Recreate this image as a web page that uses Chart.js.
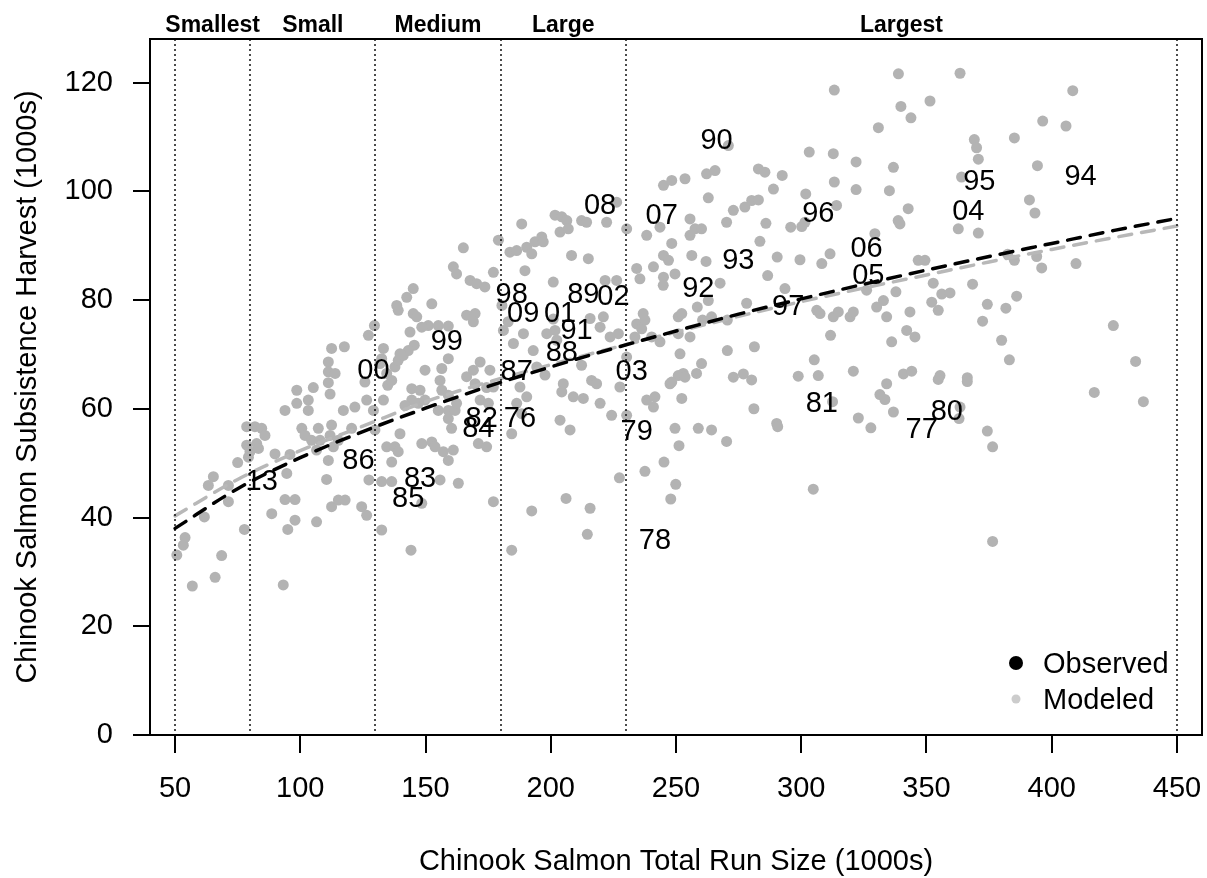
<!DOCTYPE html>
<html>
<head>
<meta charset="utf-8">
<script src="https://cdn.jsdelivr.net/npm/chart.js@4.4.1/dist/chart.umd.min.js"></script>
<style>
  html, body { margin: 0; padding: 0; background: #fff; }
  canvas { display: block; }
</style>
</head>
<body>
<canvas id="myChart" width="1207" height="878"></canvas>
<script>
//데이터 - 모델 추정치 (총 회귀량, 자급 어획량, 천 마리)
const runSize = [
  50.7, 53.3, 54.0, 56.9, 66.0, 68.6, 61.7, 63.3, 65.3, 71.3,
  71.3, 75.0, 77.7, 78.6, 81.9, 84.6, 85.9, 78.6, 79.9, 82.6,
  83.3, 79.3, 89.9, 95.9, 94.6, 88.6, 93.9, 97.9, 97.9, 95.0,
  93.2, 106.5, 110.5, 112.5, 115.2, 117.9, 124.5, 126.5, 132.5, 144.2,
  127.4, 132.5, 136.5, 163.1, 177.1, 155.8, 98.6, 93.9, 98.6, 103.2,
  103.2, 105.2, 111.9, 111.2, 111.2, 112.5, 117.6, 111.2, 113.9, 100.6,
  101.9, 104.5, 107.2, 107.9, 106.5, 112.5, 111.9, 113.2, 115.2, 111.2,
  117.2, 121.8, 120.5, 126.5, 125.8, 127.2, 129.6, 129.2, 129.8, 133.2,
  132.5, 133.2, 134.9, 136.5, 137.8, 139.1, 141.1, 143.8, 145.5, 139.1,
  145.1, 152.5, 151.1, 155.1, 159.1, 166.4, 169.8, 169.1, 149.8, 156.5,
  155.8, 144.5, 147.8, 144.5, 141.8, 147.1, 149.8, 156.5, 159.1, 155.1,
  159.1, 161.8, 159.1, 139.8, 134.5, 137.8, 139.1, 136.5, 148.5, 152.5,
  153.8, 157.1, 159.1, 161.1, 160.4, 166.4, 171.8, 169.1, 171.1, 174.4,
  175.7, 177.1, 148.5, 159.1, 169.8, 174.4, 171.8, 175.1, 131.8, 134.5,
  143.1, 139.8, 148.5, 146.5, 138.5, 162.4, 165.1, 161.1, 162.4, 167.8,
  170.4, 173.7, 177.1, 145.1, 142.5, 179.1, 183.7, 186.4, 188.4, 190.4,
  192.4, 189.7, 193.7, 196.4, 197.0, 201.7, 204.4, 206.4, 203.7, 207.0,
  212.3, 214.3, 222.3, 226.3, 208.3, 215.0, 201.0, 221.7, 226.3, 230.3,
  181.1, 185.1, 189.1, 193.0, 198.4, 201.7, 202.4, 215.7, 221.0, 219.7,
  223.7, 227.0, 194.4, 197.7, 212.3, 205.0, 204.4, 209.0, 213.0, 216.3,
  218.3, 219.7, 224.3, 227.6, 230.3, 233.6, 234.3, 236.9, 236.3, 238.3,
  241.6, 241.0, 247.6, 252.3, 249.6, 203.7, 207.7, 234.3, 235.6, 238.3,
  241.0, 245.0, 245.0, 248.3, 247.0, 249.6, 255.6, 256.3, 257.6, 245.0,
  248.3, 253.6, 250.9, 255.6, 251.6, 252.9, 180.5, 183.0, 201.0, 187.7,
  190.4, 186.4, 188.4, 184.4, 192.4, 206.1, 215.7, 214.6, 227.4, 237.6,
  245.2, 249.9, 247.9, 251.2, 270.2, 264.2, 258.9, 281.1, 290.2, 290.6,
  184.4, 230.3, 270.9, 262.2, 265.6, 262.9, 255.6, 260.2, 270.2, 272.9,
  277.5, 280.2, 282.9, 282.9, 285.5, 288.9, 292.4, 285.9, 283.5, 262.0,
  267.6, 262.9, 258.5, 260.6, 264.2, 270.5, 278.2, 286.6, 290.4, 293.5,
  295.8, 300.2, 301.5, 301.8, 303.2, 312.8, 313.2, 321.9, 321.9, 330.8,
  336.8, 335.2, 342.7, 338.7, 339.4, 314.1, 311.5, 308.2, 299.5, 306.2,
  307.5, 312.8, 314.8, 319.5, 320.8, 311.7, 326.1, 329.4, 332.8, 330.1,
  334.1, 337.8, 343.4, 336.1, 342.1, 345.4, 346.7, 349.4, 352.7, 352.1,
  354.7, 356.1, 270.5, 281.3, 260.2, 258.2, 250.9, 253.6, 248.3, 272.9,
  276.9, 280.2, 298.8, 305.2, 306.8, 320.8, 334.1, 340.8, 344.1, 355.4,
  243.6, 244.9, 237.6, 240.3, 243.6, 252.3, 250.9, 338.8, 363.4, 313.2,
  408.4, 339.8, 343.8, 351.4, 396.4, 405.7, 385.1, 369.1, 370.0, 370.7,
  394.3, 364.0, 391.1, 393.3, 362.7, 370.7, 385.1, 394.0, 396.0, 409.7,
  382.4, 368.4, 374.3, 381.7, 386.0, 372.4, 424.6, 359.4, 433.5, 417.0,
  436.6, 380.0, 383.1, 363.4, 363.0, 374.3, 376.4, 376.4, 304.8, 322.8,
  327.8, 336.8, 331.4, 333.4, 354.7, 366.3, 366.3, 312.5
];
const harvest = [
  33.1, 34.9, 36.3, 27.4, 29.0, 33.0, 40.1, 45.9, 47.5, 45.9,
  42.9, 50.1, 37.8, 56.7, 56.7, 56.4, 55.1, 53.3, 52.1, 53.6,
  52.7, 51.1, 51.7, 51.6, 48.1, 40.7, 43.3, 43.3, 39.5, 37.8,
  27.6, 39.2, 47.0, 42.0, 43.2, 43.2, 42.0, 40.4, 37.7, 34.0,
  46.9, 46.6, 46.6, 46.3, 42.9, 46.9, 63.4, 59.7, 61.0, 61.6,
  59.7, 63.9, 62.7, 64.8, 68.6, 71.1, 71.4, 66.8, 66.5, 56.4,
  55.1, 54.2, 56.4, 54.2, 52.4, 57.0, 55.1, 53.0, 54.2, 50.5,
  59.7, 60.3, 56.4, 61.6, 64.9, 73.5, 75.3, 59.7, 56.1, 71.1,
  69.2, 61.6, 64.3, 65.2, 67.7, 68.9, 69.8, 74.1, 71.7, 78.1,
  77.5, 79.3, 75.3, 75.3, 75.2, 77.2, 77.5, 76.0, 67.1, 67.4,
  65.2, 63.7, 63.4, 61.6, 60.6, 61.0, 61.6, 63.4, 62.5, 59.7,
  59.7, 59.7, 58.2, 55.4, 53.0, 53.0, 52.1, 50.2, 53.6, 53.9,
  53.0, 52.1, 50.5, 52.4, 56.4, 65.9, 68.6, 67.1, 53.6, 53.0,
  67.1, 64.0, 42.6, 69.2, 64.6, 63.9, 61.6, 61.0, 68.3, 66.5,
  70.7, 70.1, 75.0, 76.9, 79.0, 61.0, 89.6, 86.1, 84.8, 83.6,
  83.0, 82.4, 85.1, 82.1, 80.5, 91.0, 88.8, 89.1, 94.0, 89.7,
  88.5, 85.4, 90.7, 91.6, 90.7, 95.6, 95.3, 94.6, 92.5, 93.1,
  94.6, 94.3, 94.3, 98.0, 88.2, 87.6, 83.3, 83.6, 83.6, 93.1,
  74.4, 72.0, 73.8, 70.7, 73.8, 74.4, 72.6, 76.6, 76.9, 75.0,
  73.2, 73.8, 67.7, 66.2, 68.0, 64.6, 63.1, 62.2, 61.9, 65.2,
  64.6, 61.0, 58.8, 64.0, 69.5, 73.2, 75.6, 77.5, 74.7, 61.6,
  62.2, 60.3, 64.6, 61.9, 56.4, 57.9, 56.1, 85.8, 83.9, 91.9,
  86.1, 88.2, 84.2, 90.4, 87.3, 84.8, 91.9, 88.2, 93.1, 101.1,
  102.0, 102.3, 76.9, 73.2, 70.1, 66.5, 79.0, 76.0, 76.5, 64.0,
  62.2, 61.0, 59.1, 34.0, 41.2, 43.5, 41.7, 36.9, 47.3, 48.5,
  50.2, 46.1, 43.4, 53.2, 54.0, 56.1, 56.4, 60.0, 57.3, 56.7,
  55.4, 58.8, 108.4, 103.2, 103.8, 98.8, 94.9, 93.1, 94.3, 96.5,
  97.1, 98.3, 98.4, 104.1, 103.5, 100.4, 102.9, 94.1, 90.8, 87.1,
  83.1, 79.9, 78.7, 76.3, 76.9, 76.3, 79.4, 84.5, 87.9, 82.1,
  93.4, 93.5, 94.3, 99.5, 107.2, 106.9, 101.7, 105.4, 100.3, 111.7,
  104.4, 100.1, 96.8, 94.6, 94.0, 97.4, 88.5, 86.7, 87.4, 78.1,
  77.5, 76.9, 77.8, 76.9, 77.8, 73.5, 81.8, 92.2, 79.9, 78.7,
  76.9, 81.5, 77.8, 72.3, 74.4, 73.2, 87.3, 87.3, 83.1, 79.6,
  78.1, 81.1, 70.7, 71.4, 68.3, 66.5, 66.1, 65.8, 64.9, 65.8,
  66.4, 65.3, 66.0, 69.0, 66.1, 66.9, 64.6, 66.4, 66.9, 66.1,
  93.4, 82.7, 76.3, 73.2, 72.3, 77.5, 73.8, 121.6, 121.7, 118.6,
  118.5, 115.6, 113.5, 116.6, 112.9, 112.0, 109.8, 109.5, 108.0, 105.9,
  104.7, 102.6, 98.4, 96.0, 93.1, 92.3, 87.3, 88.0, 85.9, 86.7,
  88.4, 82.9, 79.2, 78.5, 80.7, 76.1, 75.3, 81.3, 68.7, 63.0,
  61.3, 72.6, 69.0, 60.3, 58.2, 55.9, 53.0, 35.6, 45.2, 58.3,
  56.5, 59.4, 62.6, 61.7, 65.4, 65.7, 65.0, 61.3
];

//관측치 (연도 라벨)
const obsYear = ["76", "77", "78", "79", "80", "81", "82", "83", "84", "85",
  "86", "87", "88", "89", "90", "91", "92", "93", "94", "95",
  "96", "97", "98", "99", "00", "01", "02", "03", "04", "05",
  "06", "07", "08", "09", "13"];
const obsRun = [187.7, 348.1, 241.6, 234.3, 358.1, 308.2, 172.4, 147.8, 171.1, 143.1,
  123.2, 186.4, 204.4, 213.0, 266.2, 210.3, 258.9, 274.9, 411.5, 371.1,
  306.8, 294.8, 184.4, 158.5, 129.2, 203.7, 225.0, 232.3, 366.7, 326.8,
  326.1, 244.3, 219.7, 189.0, 84.6];
const obsHarvest = [58.5, 56.4, 36.1, 56.1, 59.7, 61.3, 58.5, 47.5, 56.7, 43.8,
  50.8, 67.1, 70.7, 81.2, 109.6, 74.7, 82.4, 87.6, 102.9, 102.0,
  96.2, 79.0, 81.2, 72.6, 67.4, 77.8, 80.9, 67.1, 96.6, 84.8,
  89.7, 95.9, 97.7, 77.8, 46.9];

//적합 곡선
const curveRun = [50, 75, 100, 125, 150, 175, 200, 225, 250, 275, 300, 325, 350, 375, 400, 425, 450];
const fitObserved = [38.0, 45.3, 51.0, 55.8, 60.1, 64.1, 67.7, 71.1, 74.3, 77.4, 80.2, 82.9, 85.5, 88.0, 90.4, 92.8, 95.0];
const fitModeled = [40.3, 47.0, 52.3, 56.8, 61.3, 64.9, 68.1, 71.2, 74.1, 77.0, 79.7, 82.2, 84.6, 87.0, 89.3, 91.5, 93.6];

//회귀량 구간
const classBreaks = [50, 80, 130, 180, 230, 450];
const classNames = ["Smallest", "Small", "Medium", "Large", "Largest"];

//축 눈금
const xTicks = [50, 100, 150, 200, 250, 300, 350, 400, 450];
const yTicks = [0, 20, 40, 60, 80, 100, 120];

const FONT = "'Liberation Sans', Arial, Helvetica, sans-serif";
const GREY_PT = "#b3b3b3";

// 점선, 라벨, 범례, 축 제목
const overlay = {
  id: "overlay",
  afterDatasetsDraw(chart) {
    const { ctx, chartArea: a, scales } = chart;
    const x = scales.x, y = scales.y;
    ctx.save();

    // 구간 경계선
    ctx.strokeStyle = "#000";
    ctx.lineWidth = 1.4;
    ctx.setLineDash([2, 3]);
    classBreaks.forEach(function (b) {
      const px = Math.round(x.getPixelForValue(b));
      ctx.beginPath();
      ctx.moveTo(px, a.top);
      ctx.lineTo(px, a.bottom);
      ctx.stroke();
    });
    ctx.setLineDash([]);

    // 연도 라벨
    ctx.fillStyle = "#000";
    ctx.font = "29px " + FONT;
    ctx.textAlign = "center";
    ctx.textBaseline = "alphabetic";
    obsYear.forEach(function (yr, i) {
      ctx.fillText(yr, x.getPixelForValue(obsRun[i]), y.getPixelForValue(obsHarvest[i]) + 10);
    });

    // 테두리
    ctx.lineWidth = 2;
    ctx.strokeRect(a.left, a.top, a.right - a.left, a.bottom - a.top);

    // 구간 이름
    ctx.font = "bold 23px " + FONT;
    for (let i = 0; i < classNames.length; i++) {
      const mid = (classBreaks[i] + classBreaks[i + 1]) / 2;
      ctx.fillText(classNames[i], x.getPixelForValue(mid), a.top - 7.5);
    }

    // 범례
    const lx = a.right - 186;
    const ly = a.bottom - 72;
    ctx.fillStyle = "#000";
    ctx.beginPath();
    ctx.arc(lx, ly, 7, 0, Math.PI * 2);
    ctx.fill();
    ctx.fillStyle = "#cccccc";
    ctx.beginPath();
    ctx.arc(lx, ly + 36, 4.5, 0, Math.PI * 2);
    ctx.fill();
    ctx.fillStyle = "#000";
    ctx.font = "29px " + FONT;
    ctx.textAlign = "left";
    ctx.fillText("Observed", lx + 27, ly + 10);
    ctx.fillText("Modeled", lx + 27, ly + 46);

    // 축 제목
    ctx.textAlign = "center";
    ctx.fillText("Chinook Salmon Total Run Size (1000s)", (a.left + a.right) / 2, a.bottom + 135);
    ctx.translate(36, (a.top + a.bottom) / 2);
    ctx.rotate(-Math.PI / 2);
    ctx.fillText("Chinook Salmon Subsistence Harvest (1000s)", 0, 0);

    ctx.restore();
  },
};

const ctx = document.getElementById("myChart").getContext("2d");
const myChart = new Chart(ctx, {
  type: "scatter",
  data: {
    datasets: [
      {
        // 모델 추정 점
        data: runSize.map((v, i) => ({ x: v, y: harvest[i] })),
        pointRadius: 5.5,
        pointHoverRadius: 5.5,
        pointBackgroundColor: GREY_PT,
        pointBorderWidth: 0,
        borderWidth: 0,
        order: 3,
      },
      {
        // 모델 적합선
        type: "line",
        data: curveRun.map((v, i) => ({ x: v, y: fitModeled[i] })),
        borderColor: "#b8b8b8",
        borderWidth: 3.5,
        borderDash: [13, 10],
        borderCapStyle: "round",
        cubicInterpolationMode: "monotone",
        pointRadius: 0,
        fill: false,
        order: 2,
      },
      {
        // 관측 적합선
        type: "line",
        data: curveRun.map((v, i) => ({ x: v, y: fitObserved[i] })),
        borderColor: "#000",
        borderWidth: 3.5,
        borderDash: [13, 10],
        borderCapStyle: "round",
        cubicInterpolationMode: "monotone",
        pointRadius: 0,
        fill: false,
        order: 1,
      },
    ],
  },
  options: {
    responsive: false,
    animation: false,
    devicePixelRatio: 1,
    layout: { autoPadding: false, padding: { top: 39, right: 5, left: 0, bottom: 0 } },
    scales: {
      x: {
        type: "linear",
        min: 40,
        max: 460,
        afterFit: function (scale) {
          scale.height = 143;
          scale.paddingLeft = 0;   // 끝 라벨 여백 제거
          scale.paddingRight = 0;
        },
        afterBuildTicks: function (scale) { scale.ticks = xTicks.map((v) => ({ value: v })); },
        grid: { drawOnChartArea: false, drawTicks: true, tickLength: 18, color: "#000", lineWidth: 2 },
        border: { display: false },
        ticks: { color: "#000", font: { family: FONT, size: 29 }, padding: 19, maxRotation: 0, autoSkip: false },
      },
      y: {
        type: "linear",
        min: 0,
        max: 128,
        afterFit: function (scale) {
          scale.width = 150;
          scale.paddingTop = 0;
          scale.paddingBottom = 0;
        },
        afterBuildTicks: function (scale) { scale.ticks = yTicks.map((v) => ({ value: v })); },
        grid: { drawOnChartArea: false, drawTicks: true, tickLength: 17, color: "#000", lineWidth: 2 },
        border: { display: false },
        ticks: { color: "#000", font: { family: FONT, size: 29 }, padding: 20, autoSkip: false },
      },
    },
    plugins: {
      legend: { display: false },
      tooltip: { enabled: false },
    },
  },
  plugins: [overlay],
});
</script>
</body>
</html>
